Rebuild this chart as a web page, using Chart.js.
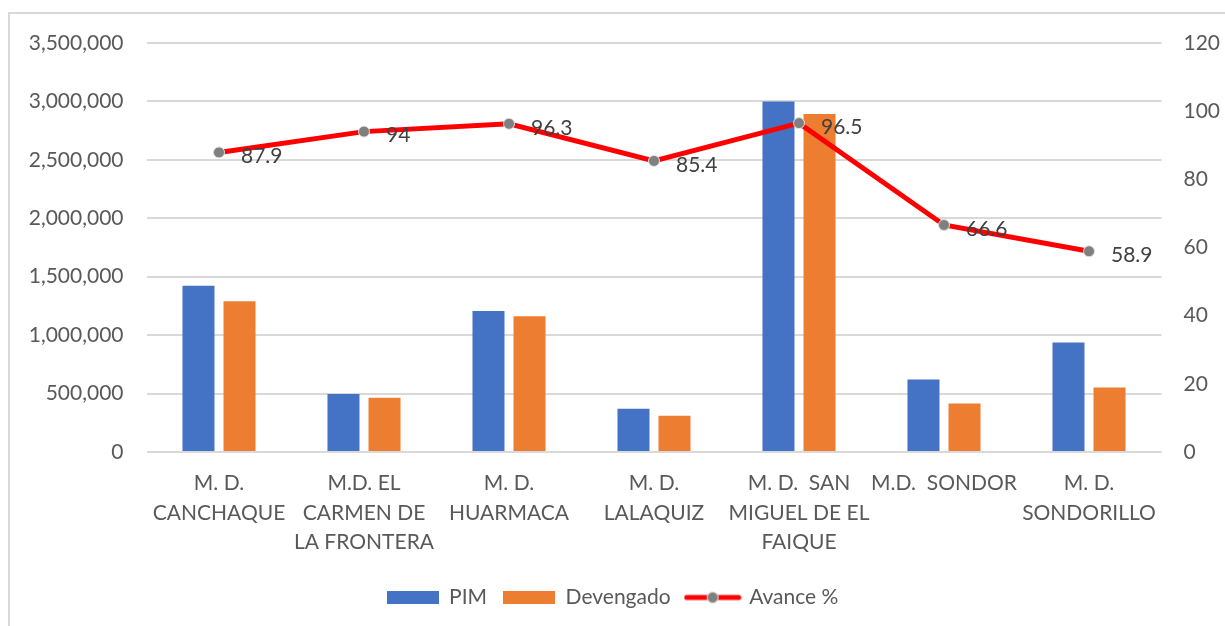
<!DOCTYPE html>
<html>
<head>
<meta charset="utf-8">
<script src="https://cdn.jsdelivr.net/npm/chart.js@4.4.1/dist/chart.umd.min.js"></script>
<style>
  html, body { margin: 0; padding: 0; background: #fff; }
  .wrap { position: relative; width: 1225px; height: 626px; overflow: hidden; }
  .frame { position: absolute; left: 8px; top: 12px; width: 1300px; height: 700px; border: 2px solid #d9d9d9; box-sizing: border-box; }
  canvas { position: absolute; left: 0; top: 0; }
</style>
</head>
<body>
<div class="wrap">
  <div class="frame"></div>
  <canvas id="chart" width="1225" height="626"></canvas>
</div>
<script>
const categories = [
  ["M. D.", "CANCHAQUE"],
  ["M.D. EL", "CARMEN DE", "LA FRONTERA"],
  ["M. D.", "HUARMACA"],
  ["M. D.", "LALAQUIZ"],
  ["M. D.  SAN", "MIGUEL DE EL", "FAIQUE"],
  ["M.D.  SONDOR"],
  ["M. D.", "SONDORILLO"]
];
const pim = [1423000, 496000, 1207000, 370000, 3000000, 620000, 936000];
const devengado = [1290000, 465000, 1161000, 311000, 2893000, 414000, 551000];
const avance = [87.9, 94, 96.3, 85.4, 96.5, 66.6, 58.9];
const leftTicks = [0, 500000, 1000000, 1500000, 2000000, 2500000, 3000000, 3500000];
const rightTicks = [0, 20, 40, 60, 80, 100, 120];

const FONT = "Lato";
const TEXT = "#595959";

// little pictures for the legend keys
function boxKey(color) {
  const c = document.createElement("canvas");
  c.width = 52; c.height = 13;
  const g = c.getContext("2d");
  g.fillStyle = color;
  g.fillRect(0, 0, 52, 13);
  return c;
}
function lineKey() {
  const c = document.createElement("canvas");
  c.width = 58; c.height = 14;
  const g = c.getContext("2d");
  g.strokeStyle = "#ff0000";
  g.lineWidth = 5;
  g.lineCap = "round";
  g.beginPath(); g.moveTo(3, 7); g.lineTo(55, 7); g.stroke();
  g.beginPath(); g.arc(29, 7, 5.5, 0, Math.PI * 2);
  g.fillStyle = "#7f7f7f"; g.fill();
  g.lineWidth = 1; g.strokeStyle = "#e0e0e0"; g.stroke();
  return c;
}

const lineLabels = {
  id: "lineLabels",
  afterDatasetsDraw(chart) {
    const meta = chart.getDatasetMeta(2);
    const ctx = chart.ctx;
    ctx.save();
    ctx.font = "21px " + FONT;
    ctx.fillStyle = "#404040";
    ctx.textAlign = "left";
    ctx.textBaseline = "middle";
    meta.data.forEach((pt, i) => {
      ctx.fillText(String(avance[i]), pt.x + 22, pt.y + 4);
    });
    ctx.restore();
  }
};

new Chart(document.getElementById("chart"), {
  data: {
    labels: categories,
    datasets: [
      {
        type: "bar",
        label: "PIM",
        data: pim,
        backgroundColor: "#4472c4",
        yAxisID: "y",
        order: 1
      },
      {
        type: "bar",
        label: "Devengado",
        data: devengado,
        backgroundColor: "#ed7d31",
        yAxisID: "y",
        order: 1
      },
      {
        type: "line",
        label: "Avance %",
        data: avance,
        borderColor: "#ff0000",
        borderWidth: 5,
        pointRadius: 5.5,
        pointBackgroundColor: "#7f7f7f",
        pointBorderColor: "#e0e0e0",
        pointBorderWidth: 1,
        tension: 0,
        yAxisID: "y1",
        order: 0
      }
    ]
  },
  options: {
    responsive: false,
    animation: false,
    layout: { padding: { top: 43, bottom: 8, left: 0, right: 0 } },
    datasets: {
      bar: { categoryPercentage: 0.566, barPercentage: 0.78 }
    },
    scales: {
      x: {
        grid: { display: false },
        border: { display: false },
        ticks: {
          color: TEXT,
          font: { family: FONT, size: 21, lineHeight: 1.4 },
          padding: 9,
          maxRotation: 0,
          autoSkip: false
        },
        afterFit(scale) { scale.height = 119; }
      },
      y: {
        position: "left",
        min: leftTicks[0],
        max: leftTicks[leftTicks.length - 1],
        afterBuildTicks(scale) { scale.ticks = leftTicks.map(v => ({ value: v })); },
        grid: { color: "#d9d9d9", lineWidth: 2, drawTicks: false },
        border: { display: false },
        ticks: {
          color: TEXT,
          font: { family: FONT, size: 21 },
          padding: 23,
          callback: v => v.toLocaleString("en-US")
        },
        afterFit(scale) { scale.width = 146.5; }
      },
      y1: {
        position: "right",
        min: rightTicks[0],
        max: rightTicks[rightTicks.length - 1],
        afterBuildTicks(scale) { scale.ticks = rightTicks.map(v => ({ value: v })); },
        grid: { display: false, drawTicks: false },
        border: { display: false },
        ticks: {
          color: TEXT,
          font: { family: FONT, size: 21 },
          padding: 22
        },
        afterFit(scale) { scale.width = 63.5; }
      }
    },
    plugins: {
      tooltip: { enabled: false },
      legend: {
        position: "bottom",
        labels: {
          color: TEXT,
          font: { family: FONT, size: 21 },
          usePointStyle: true,
          pointStyleWidth: 52,
          boxHeight: 13,
          padding: 16,
          generateLabels() {
            return [
              { text: "PIM", fontColor: TEXT, pointStyle: boxKey("#4472c4"), lineWidth: 0, hidden: false, datasetIndex: 0 },
              { text: "Devengado", fontColor: TEXT, pointStyle: boxKey("#ed7d31"), lineWidth: 0, hidden: false, datasetIndex: 1 },
              { text: "Avance %", fontColor: TEXT, pointStyle: lineKey(), lineWidth: 0, hidden: false, datasetIndex: 2 }
            ];
          }
        }
      }
    }
  },
  plugins: [lineLabels]
});
</script>
</body>
</html>
